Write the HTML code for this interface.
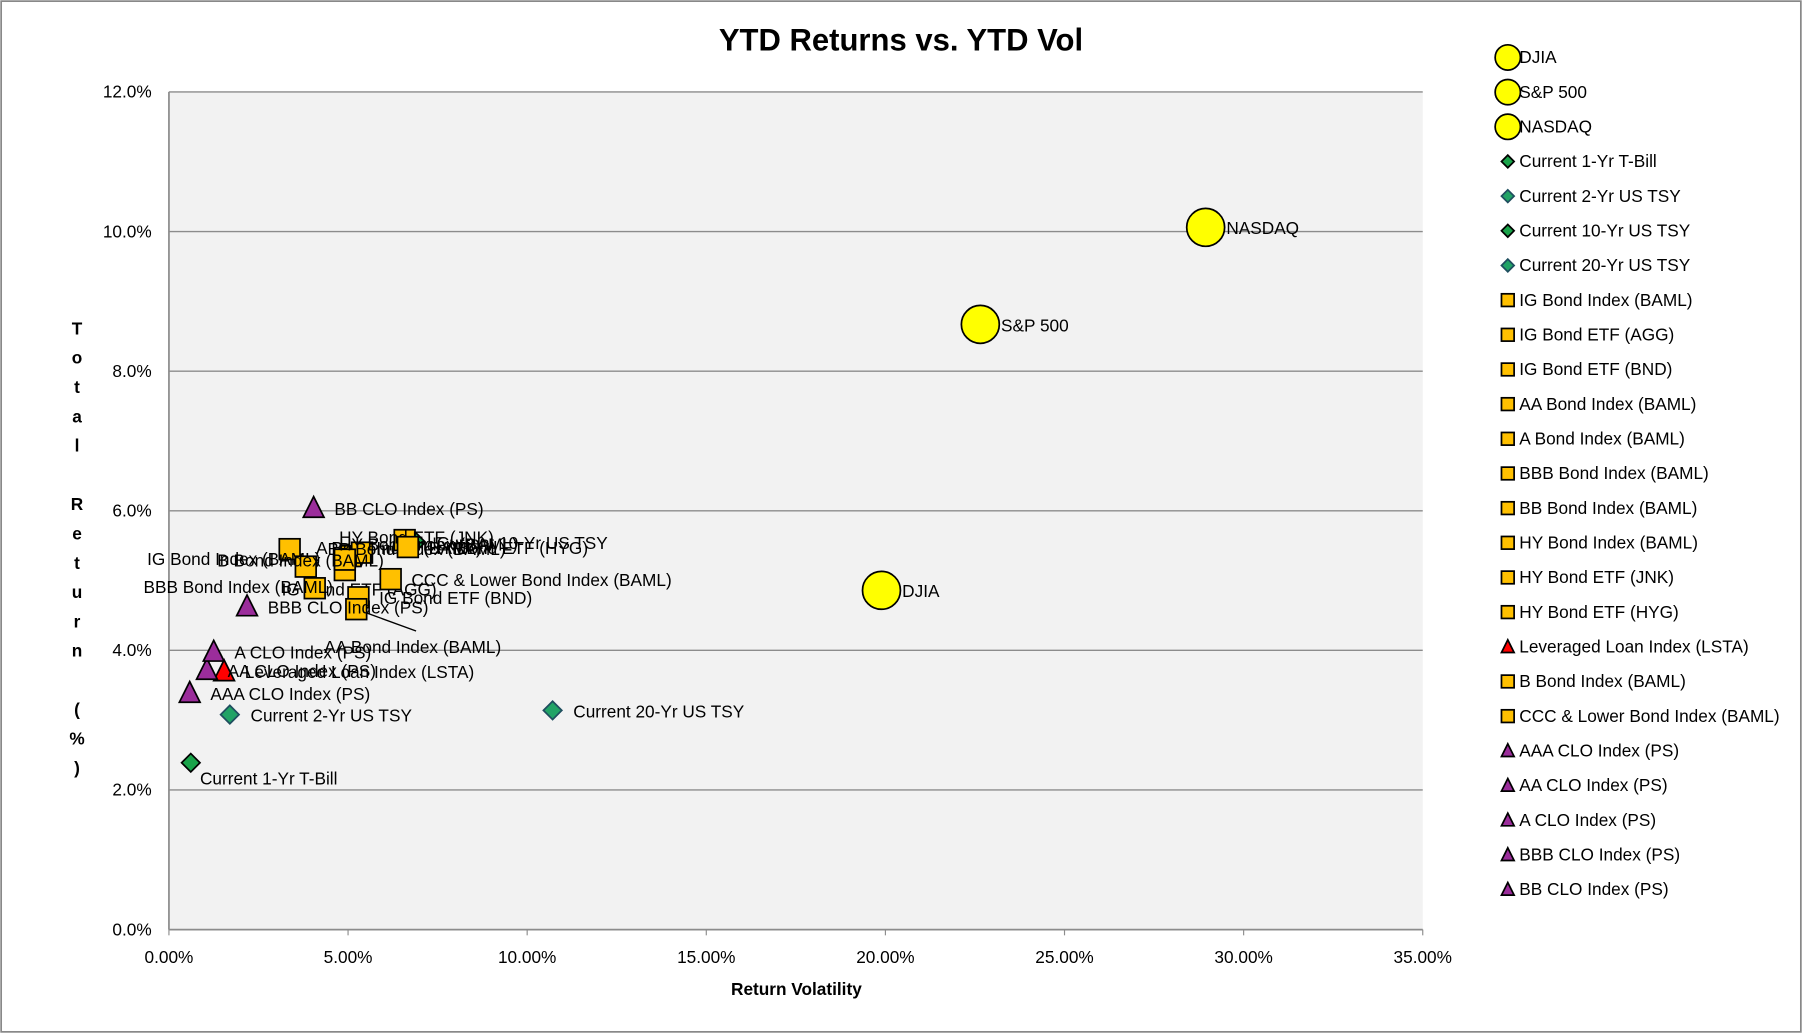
<!DOCTYPE html>
<html><head><meta charset="utf-8"><style>
html,body{margin:0;padding:0;background:#fff;}
svg{display:block;font-family:"Liberation Sans",sans-serif;}
</style></head><body>
<svg id="chart" width="1802" height="1033" viewBox="0 0 1568 899" preserveAspectRatio="none" xmlns="http://www.w3.org/2000/svg">
<rect x="1" y="1" width="1566" height="897" fill="#fff" stroke="#888" stroke-width="1.5"/>
<rect x="147" y="80" width="1091" height="729" fill="#f2f2f2"/>
<g id="grid"></g>
<g id="axes"></g>
<g id="marks"></g>
<g id="legend"></g>
<text x="784" y="44" text-anchor="middle" font-size="27" font-weight="bold">YTD Returns vs. YTD Vol</text>
<text x="693" y="866" text-anchor="middle" font-size="15" font-weight="bold">Return Volatility</text>
<g id="ytitle" font-size="15" font-weight="bold" text-anchor="middle"></g>
</svg>
<script>
const names = ["DJIA","S&P 500","NASDAQ","Current 1-Yr T-Bill","Current 2-Yr US TSY","Current 10-Yr US TSY","Current 20-Yr US TSY","IG Bond Index (BAML)","IG Bond ETF (AGG)","IG Bond ETF (BND)","AA Bond Index (BAML)","A Bond Index (BAML)","BBB Bond Index (BAML)","BB Bond Index (BAML)","HY Bond Index (BAML)","HY Bond ETF (JNK)","HY Bond ETF (HYG)","Leveraged Loan Index (LSTA)","B Bond Index (BAML)","CCC & Lower Bond Index (BAML)","AAA CLO Index (PS)","AA CLO Index (PS)","A CLO Index (PS)","BBB CLO Index (PS)","BB CLO Index (PS)"];
const vol = [19.89,22.65,28.94,0.61,1.70,6.9,10.71,3.37,4.91,5.29,5.23,5.07,4.07,5.39,4.91,6.58,6.67,1.54,3.82,6.19,0.58,1.06,1.25,2.18,4.04];
const ret = [4.86,8.67,10.06,2.39,3.08,5.55,3.14,5.45,5.15,4.76,4.59,5.35,4.89,5.40,5.30,5.58,5.48,3.70,5.20,5.02,3.39,3.72,3.98,4.63,6.04];
const kinds = ["c","c","c","d","d2","d","d2","s","s","s","s","s","s","s","s","s","s","t","s","s","t","t","t","t","t"];
const xTicks = [0,5,10,15,20,25,30,35];
const yTicks = [0,2,4,6,8,10,12];
// label offsets (layout, not data)
const lblOff = {3:[8,19],7:[-124,14],10:[-28,38],12:[-149,4],18:[-77,0],8:[-55,22],11:[-30,-2],13:[-30,2],14:[-5,-8],15:[-57,3]};
const X = v => 147 + v/35*1091;
const Y = v => 809 - v/12*729;
const NS="http://www.w3.org/2000/svg";
function mk(tag, attrs, parent){const e=document.createElementNS(NS,tag);for(const k in attrs)e.setAttribute(k,attrs[k]);parent.appendChild(e);return e;}
const grid=document.getElementById('grid'), axes=document.getElementById('axes'), marks=document.getElementById('marks'), legend=document.getElementById('legend');
yTicks.forEach(t=>{
  if(t>0){const l=mk('line',{x1:147,x2:1238,y1:Y(t),y2:Y(t),stroke:'#8c8c8c','stroke-width':1.2},grid);
  
  }
  const tx=mk('text',{x:132,y:Y(t)+5,'text-anchor':'end','font-size':15},axes);tx.textContent=t.toFixed(1)+'%';
  
  
});
const ax=mk('line',{x1:147,x2:147,y1:80,y2:809,stroke:'#8c8c8c','stroke-width':1.5},axes);


const xax=mk('line',{x1:147,x2:1238,y1:809,y2:809,stroke:'#8c8c8c','stroke-width':1.5},axes);


xTicks.forEach(t=>{
  mk('line',{x1:X(t),x2:X(t),y1:809,y2:814,stroke:'#8c8c8c'},axes);
  const tx=mk('text',{x:X(t),y:838,'text-anchor':'middle','font-size':15},axes);tx.textContent=t.toFixed(2)+'%';
  
  
});
const yt=document.getElementById('ytitle');
"Total Return (%)".split('').forEach((ch,i)=>{if(ch===' ')return;const t=mk('text',{x:67,y:291+i*25.5},yt);t.textContent=ch;});
const colors={c:'#ffff00',d:'#1aa34a',d2:'#21a366',s:'#ffc000',t:'#9b2d9b',tr:'#ff0000'};
function marker(k,x,y,sz,parent,i){
  let e;
  const fill = (k==='t'&&names[i]&&names[i].indexOf('Leveraged')===0)?'#ff0000':colors[k];
  if(k==='c') e=mk('circle',{cx:x,cy:y,r:sz*0.55,fill,stroke:'#000','stroke-width':1.5},parent);
  else if(k==='d'||k==='d2') e=mk('path',{d:`M${x} ${y-sz*0.5}L${x+sz*0.5} ${y}L${x} ${y+sz*0.5}L${x-sz*0.5} ${y}Z`,fill,stroke:k==='d'?'#000':'#1f4e5f','stroke-width':1.5},parent);
  else if(k==='s') e=mk('rect',{x:x-sz*0.5,y:y-sz*0.5,width:sz,height:sz,fill,stroke:'#000','stroke-width':1.5},parent);
  else e=mk('path',{d:`M${x} ${y-sz*0.55}L${x+sz*0.5} ${y+sz*0.45}L${x-sz*0.5} ${y+sz*0.45}Z`,fill,stroke:'#000','stroke-width':1.5},parent);
  return e;
}
// leader line for AA Bond Index
const ld=mk('line',{x1:X(vol[10]),y1:Y(ret[10]),x2:X(vol[10])+52,y2:Y(ret[10])+19,stroke:'#000','stroke-width':1.2},marks);


names.forEach((n,i)=>{
  const px=X(vol[i]), py=Y(ret[i]);
  const m=marker(kinds[i],px,py,kinds[i]==='s'?18:kinds[i]==='c'?30:kinds[i]==='t'?18:16,marks,i);
  
  
  const off=lblOff[i]||[18,6];
  const t=mk('text',{x:px+off[0],y:py+off[1],'font-size':15},marks);t.textContent=n;
  
  
});
names.forEach((n,i)=>{
  const y=50+i*30.17;
  const g=mk('g',{},legend);
  
  
  marker(kinds[i],1312,y,kinds[i]==='c'?20:11,g,i);
  const t=mk('text',{x:1322,y:y+5,'font-size':15},g);t.textContent=n;
});
</script>
</body></html>
